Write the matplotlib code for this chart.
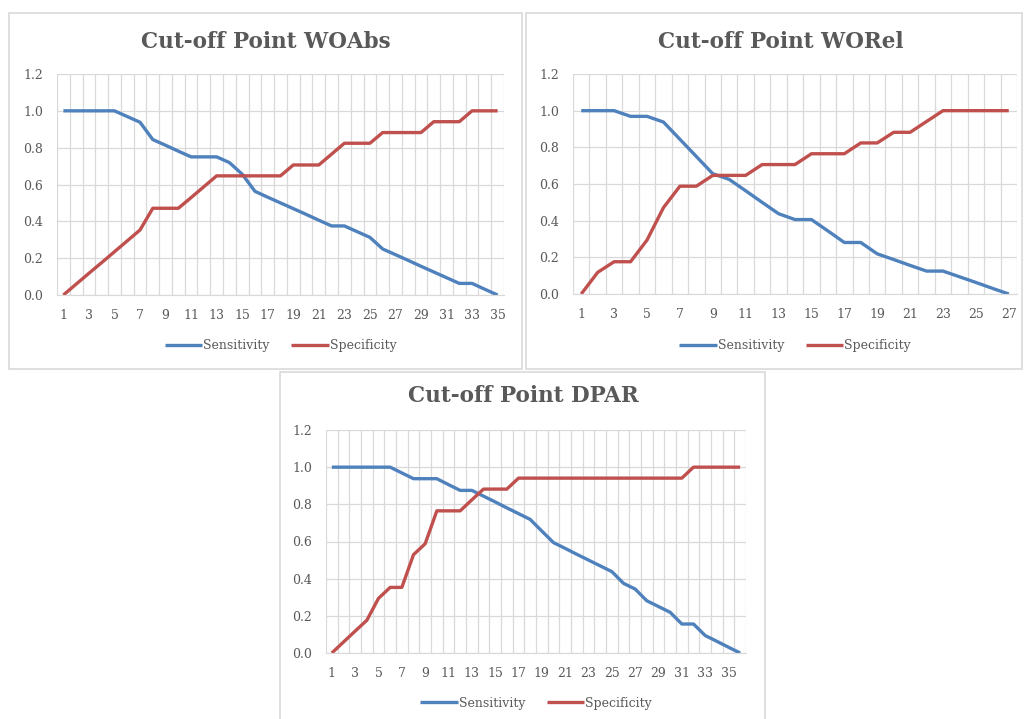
import numpy as np
import matplotlib.pyplot as plt
from matplotlib.patches import Rectangle

# ---- data ----
woabs_sens = [1.0, 1.0, 1.0, 1.0, 1.0, 0.969, 0.938, 0.844, 0.813, 0.781,
              0.75, 0.75, 0.75, 0.719, 0.656, 0.563, 0.531, 0.5, 0.469, 0.438,
              0.406, 0.375, 0.375, 0.344, 0.313, 0.25, 0.219, 0.188, 0.156, 0.125,
              0.094, 0.063, 0.063, 0.031, 0.0]
woabs_spec = [0.0, 0.059, 0.118, 0.176, 0.235, 0.294, 0.353, 0.471, 0.471, 0.471,
              0.529, 0.588, 0.647, 0.647, 0.647, 0.647, 0.647, 0.647, 0.706, 0.706,
              0.706, 0.765, 0.824, 0.824, 0.824, 0.882, 0.882, 0.882, 0.882, 0.941,
              0.941, 0.941, 1.0, 1.0, 1.0]

worel_sens = [1.0, 1.0, 1.0, 0.969, 0.969, 0.938, 0.844, 0.75, 0.656, 0.625,
              0.563, 0.5, 0.438, 0.406, 0.406, 0.344, 0.281, 0.281, 0.219, 0.188,
              0.156, 0.125, 0.125, 0.094, 0.063, 0.031, 0.0]
worel_spec = [0.0, 0.118, 0.176, 0.176, 0.294, 0.471, 0.588, 0.588, 0.647, 0.647,
              0.647, 0.706, 0.706, 0.706, 0.765, 0.765, 0.765, 0.824, 0.824, 0.882,
              0.882, 0.941, 1.0, 1.0, 1.0, 1.0, 1.0]

dpar_sens = [1.0, 1.0, 1.0, 1.0, 1.0, 1.0, 0.969, 0.938, 0.938, 0.938,
             0.906, 0.875, 0.875, 0.844, 0.813, 0.781, 0.75, 0.719, 0.656, 0.594,
             0.563, 0.531, 0.5, 0.469, 0.438, 0.375, 0.344, 0.281, 0.25, 0.219,
             0.156, 0.156, 0.094, 0.063, 0.031, 0.0]
dpar_spec = [0.0, 0.059, 0.118, 0.176, 0.294, 0.353, 0.353, 0.529, 0.588, 0.765,
             0.765, 0.765, 0.824, 0.882, 0.882, 0.882, 0.941, 0.941, 0.941, 0.941,
             0.941, 0.941, 0.941, 0.941, 0.941, 0.941, 0.941, 0.941, 0.941, 0.941,
             0.941, 1.0, 1.0, 1.0, 1.0, 1.0]

titles = ["Cut-off Point WOAbs", "Cut-off Point WORel", "Cut-off Point DPAR"]

BLUE = "#4F81BD"
RED = "#C0504D"
TXT = "#595959"
GRID = "#D9D9D9"
W, H = 1024, 719

plt.rcParams['font.family'] = ['DejaVu Serif']

fig = plt.figure(figsize=(W / 100, H / 100), dpi=100)


def px(x0, y0, x1, y1):
    # pixel box (top-left origin) -> figure fraction
    return [x0 / W, 1 - y1 / H, (x1 - x0) / W, (y1 - y0) / H]


def frame(x0, y0, x1, y1):
    fig.patches.append(Rectangle((x0 / W, 1 - y1 / H), (x1 - x0) / W, (y1 - y0) / H,
                                 transform=fig.transFigure, fill=False,
                                 edgecolor="#D9D9D9", lw=1.2))


def panel(box, frm, title, title_xy, sens, spec, leg_y):
    frame(*frm)
    ax = fig.add_axes(px(*box))
    n = len(sens)
    x = np.arange(1, n + 1)
    ax.plot(x, sens, color=BLUE, lw=2.4, label="Sensitivity", solid_capstyle="butt")
    ax.plot(x, spec, color=RED, lw=2.4, label="Specificity", solid_capstyle="butt")
    ax.set_xlim(0.5, n + 0.5)
    ax.set_ylim(0, 1.2)
    ax.set_yticks(np.arange(0, 1.21, 0.2))
    ax.set_yticklabels([f"{v:.1f}" for v in np.arange(0, 1.21, 0.2)])
    ax.set_xticks(x[::2])
    ax.set_xticklabels([str(v) for v in x[::2]])
    ax.set_xticks(np.arange(0.5, n + 1, 1), minor=True)
    ax.grid(False)
    ax.grid(True, which="minor", axis="x", color=GRID, lw=0.9)
    ax.grid(True, which="major", axis="y", color=GRID, lw=0.9)
    for s in ["top", "right", "left"]:
        ax.spines[s].set_visible(False)
    ax.spines["bottom"].set_color(GRID)
    ax.tick_params(which="both", length=0, colors=TXT, labelsize=9)
    ax.tick_params(axis="y", pad=10)
    ax.tick_params(axis="x", pad=10)
    ax.set_axisbelow(True)
    fig.text(title_xy[0] / W, 1 - title_xy[1] / H, title, ha="center", va="center",
             fontsize=15.5, fontweight="bold", color=TXT)
    ax.legend(loc="center", bbox_to_anchor=(0.5, 1 - (leg_y - box[1]) / (box[3] - box[1])),
              ncol=2, frameon=False, fontsize=9, handlelength=3.0, handletextpad=0.1,
              columnspacing=1.7, labelcolor=TXT)
    return ax


panel((57, 74, 504, 295), (9, 13, 522, 369), titles[0], (266, 42),
      woabs_sens, woabs_spec, 346)
panel((573, 74, 1017, 294), (526, 13, 1022, 369), titles[1], (781, 42),
      worel_sens, worel_spec, 346)
panel((326, 430, 746, 653), (280, 372, 765, 722), titles[2], (523, 396),
      dpar_sens, dpar_spec, 703)

fig.savefig("out.png", dpi=100)
